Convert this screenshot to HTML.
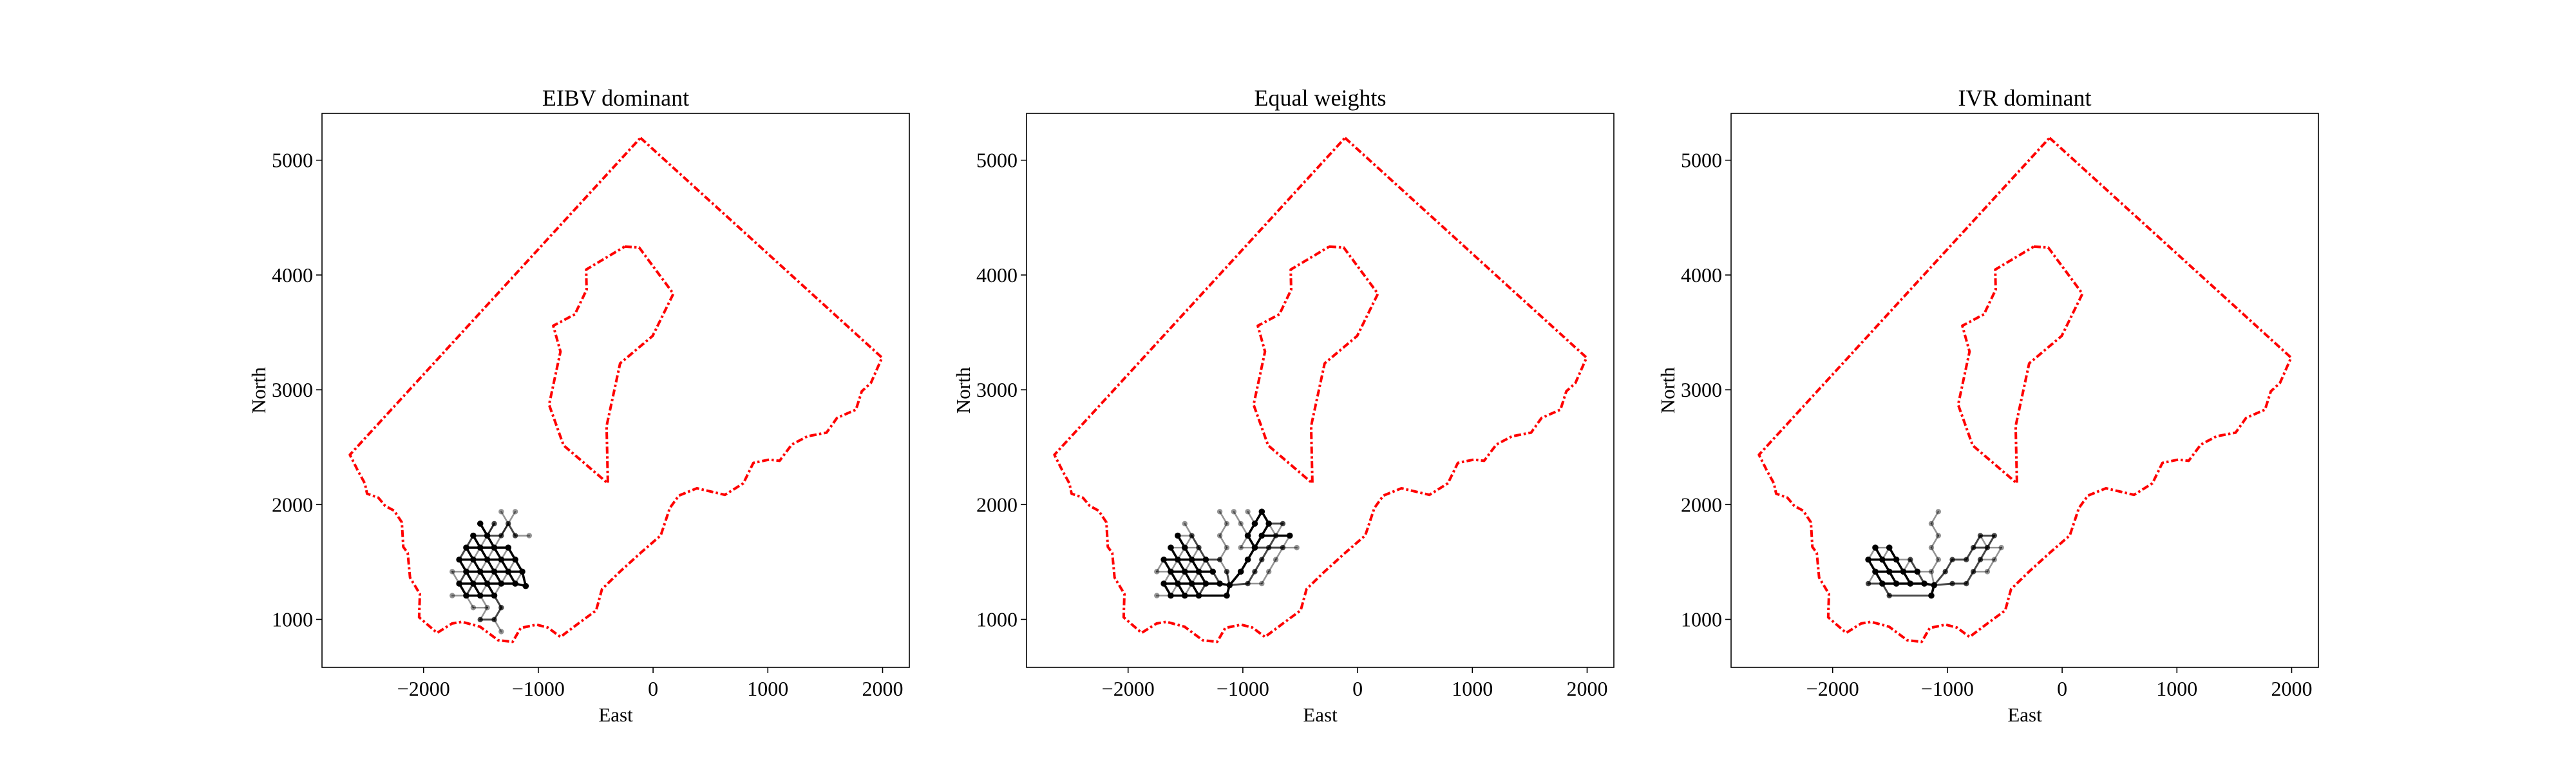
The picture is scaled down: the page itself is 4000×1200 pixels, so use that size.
<!DOCTYPE html>
<html><head><meta charset="utf-8"><style>
html,body{margin:0;padding:0;background:#fff;}
svg{display:block;font-family:"Liberation Serif",serif;}
</style></head><body>
<svg id="fig" width="4000" height="1200" viewBox="0 0 4000 1200" xmlns="http://www.w3.org/2000/svg">
<rect width="4000" height="1200" fill="#fff"/>
</svg>
<script>
const titles = ["EIBV dominant","Equal weights","IVR dominant"];
const xTicks = [-2000,-1000,0,1000,2000];
const yTicks = [1000,2000,3000,4000,5000];
const xLim = [-2885, 2233];
const yLim = [582, 5408];
const outerX = [-110,1995,1898,1819,1768,1603,1512,1346,1209,1102,1012,874,787,626,382,224,146,67,-110,-287,-445,-496,-642,-807,-917,-1016,-1154,-1224,-1350,-1508,-1665,-1752,-1882,-2039,-2032,-2118,-2138,-2177,-2189,-2256,-2334,-2394,-2492,-2512,-2571,-2642,-110];
const outerY = [5195,3280,3059,2987,2827,2755,2627,2595,2523,2381,2392,2363,2185,2085,2142,2078,1970,1731,1578,1417,1264,1078,971,847,929,954,925,804,818,936,979,964,882,1018,1221,1364,1578,1632,1845,1946,1988,2060,2095,2185,2292,2434,5195];
const innerX = [-248,-122,177,-4,-287,-405,-394,-780,-906,-807,-870,-681,-579,-583,-248];
const innerY = [4247,4240,3837,3469,3230,2684,2185,2516,2870,3333,3558,3658,3872,4047,4247];
// lattice: x = latX0 + latDX*h, y = latY0 + latDY*r
const latX0 = -1750, latDX = 61, latY0 = 1416, latDY = 104.5;
// edges "h1,r1,h2,r2,level" (level 1 = dark/heavy, 3 = light)
const edges1 = ["4,4,5,3,1","5,3,6,2,1","6,2,7,1,1","7,1,8,0,1","8,0,9,-1,1","3,3,4,2,1","4,2,5,1,1","5,1,6,0,1","6,0,7,-1,1","2,2,3,1,1","3,1,4,0,1","4,0,5,-1,1","5,-1,6,-2,1","1,1,2,0,1","2,0,3,-1,1","3,-1,4,-2,1","8,2,9,1,1","9,1,10,0,1","10,0,10.5,-1.2,1",
"2,2,8,2,1","1,1,9,1,1","2,0,10,0,1","1,-1,9,-1,1","9,-1,10.5,-1.2,1","2,-2,6,-2,1","3,3,7,3,2","0,0,2,0,3","0,-2,2,-2,3","9,3,11,3,3",
"1,-1,2,0,2","3,-1,4,0,3","5,-1,6,0,3","7,-1,8,0,3","9,-1,10,0,3","2,0,3,1,3","4,0,5,1,3","6,0,7,1,3","8,0,9,1,3","1,1,2,2,2","3,1,4,2,3","5,1,6,2,3","7,1,8,2,3","2,2,3,3,2","4,2,5,3,3","6,2,7,3,3","5,3,6,4,3","7,3,8,4,3","2,-2,3,-1,2","4,-2,5,-1,3","6,-2,7,-1,3","0,0,1,-1,3","1,-1,2,-2,1",
"7,5,8,4,3","9,5,8,4,3","8,4,7,3,2","8,4,9,3,2","6,4,5,3,2","2,-2,3,-3,3","3,-3,5,-3,3","4,-2,5,-3,3","5,-3,4,-4,3","4,-4,6,-4,2","6,-2,7,-3,2","7,-3,6,-4,2","6,-4,7,-5,3"];
const edges2 = ["1,1,2,0,1","2,0,3,-1,1","3,-1,4,-2,1","2,2,3,1,1","3,1,4,0,1","4,0,5,-1,1","5,-1,6,-2,1","3,3,4,2,1","4,2,5,1,1","5,1,6,0,1","6,0,7,-1,1","5,3,6,2,2","6,2,7,1,2","7,1,8,0,2","8,0,9,-1,2","4,4,5,3,3",
"1,1,7,1,1","7,1,9,1,2","0,0,2,0,3","2,0,8,0,1","1,-1,9,-1,1","9,-1,10.4,-1.13,1","0,-2,2,-2,3","2,-2,10,-2,1","2,2,6,2,3","3,3,5,3,3",
"0,0,1,1,3","1,-1,2,0,3","2,-2,3,-1,3","4,-2,5,-1,3","6,-2,7,-1,2","3,-1,4,0,3","5,-1,6,0,3","2,0,3,1,3","4,0,5,1,3","6,0,7,1,3","3,1,4,2,3","5,1,6,2,3","4,2,5,3,3","1,-1,2,-2,1",
"10,-2,10.4,-1.13,1","10,0,10.4,-1.13,2","9,1,10,0,3","9,5,10,4,3","10,4,9,3,3","9,3,10,2,3","10,2,9,1,3",
"10.4,-1.13,12,0,1","12,0,13,1,1","13,1,14,2,1","14,2,15,3,1","15,3,16,4,1","16,4,18,4,2","13,3,14,4,1","14,4,15,5,1","15,5,16,4,1","12,2,13,3,3","13,3,14,2,1","15,3,19,3,1","12,2,14,2,3","14,2,18,2,2","18,2,20,2,3","11,5,12,4,3","12,4,13,3,3","13,5,14,4,3","16,4,17,3,3","18,4,17,3,3",
"10.4,-1.13,13,-1,2","13,-1,15,-1,3","13,-1,14,0,2","14,0,15,1,2","15,1,16,2,2","16,2,17,3,2","15,-1,16,0,3","16,0,17,1,3","17,1,18,2,3","18,2,19,3,3"];
const edges3 = ["2,2,3,1,1","3,1,4,0,1","4,0,5,-1,1","1,1,5,1,1","5,1,7,1,3","2,0,8,0,1","8,0,10,0,3","1,1,2,0,1","2,0,3,-1,1","4,2,5,1,1","5,1,6,0,1","6,0,7,-1,1","7,1,8,0,2","8,0,9,-1,2","3,-1,9,-1,1","9,-1,10.4,-1.13,1","1,-1,3,-1,2","3,-1,4,-2,2","4,-2,10,-2,2","10,-2,10.4,-1.13,1","2,2,4,2,3","2,0,1,-1,3","6,0,7,1,3","1,1,2,2,3","3,1,4,2,3",
"11,5,10,4,3","10,4,11,3,3","11,3,10,2,3","10,2,11,1,3","11,1,10,0,3","10,0,10.4,-1.13,3",
"10.4,-1.13,13,-1,2","13,-1,15,-1,2","10.4,-1.13,12,0,2","12,0,13,1,2","13,1,15,1,2","15,1,16,2,2","16,2,17,3,2","15,-1,16,0,2","16,0,17,1,2","17,1,18,2,2","18,2,19,3,2","16,2,18,2,2","18,2,20,2,3","17,3,19,3,2","17,3,18,2,3","19,1,20,2,3","16,0,18,0,3","18,0,19,1,3","17,1,19,1,3"];
const allEdges = [edges1, edges2, edges3];

const NS = "http://www.w3.org/2000/svg";
const svg = document.getElementById("fig");
const AX_W = 912, AX_H = 860, AX_TOP = 176, AX_LEFT0 = 500, AX_STEP = 1094;
function mk(tag, attrs, parent){const e=document.createElementNS(NS,tag);for(const k in attrs)e.setAttribute(k,attrs[k]);parent.appendChild(e);return e;}
const levelStyle = {1:{c:"#000",o:1,w:3.6},2:{c:"#000",o:0.72,w:3},3:{c:"#000",o:0.42,w:2.6}};

for (let p=0;p<3;p++){
  const ox = AX_LEFT0 + AX_STEP*p;
  const sx = v => ox + (v - xLim[0])/(xLim[1]-xLim[0])*AX_W;
  const sy = v => AX_TOP + (yLim[1]-v)/(yLim[1]-yLim[0])*AX_H;
  const g = mk("g",{},svg);
  
  
  const poly = (xs,ys,name)=>{
    let d=""; xs.forEach((x,i)=>{d+=(i?"L":"M")+sx(x).toFixed(1)+","+sy(ys[i]).toFixed(1);});
    const pa = mk("path",{d:d,fill:"none",stroke:"#ff0000","stroke-width":4,"stroke-dasharray":"11 4 3.5 4","stroke-linejoin":"round"},g);
    
    
  };
  poly(outerX,outerY,"outer-boundary");
  poly(innerX,innerY,"inner-boundary");
  const nodeLevel = {};
  const eg = mk("g",{},g);
  
  
  allEdges[p].forEach(s=>{
    const [h1,r1,h2,r2,l] = s.split(",").map(Number);
    const st = levelStyle[l];
    const ln = mk("line",{x1:sx(latX0+latDX*h1),y1:sy(latY0+latDY*r1),x2:sx(latX0+latDX*h2),y2:sy(latY0+latDY*r2),stroke:st.c,"stroke-opacity":st.o,"stroke-width":st.w,"stroke-linecap":"round"},eg);
    
    
    [[h1,r1],[h2,r2]].forEach(([h,r])=>{const k=h+"_"+r;nodeLevel[k]=Math.min(nodeLevel[k]||9,l);});
  });
  for (const k in nodeLevel){
    const [h,r]=k.split("_").map(Number);
    const st = levelStyle[nodeLevel[k]];
    const c = mk("circle",{cx:sx(latX0+latDX*h),cy:sy(latY0+latDY*r),r:nodeLevel[k]===1?4.8:4.2,fill:"#000","fill-opacity":st.o},eg);
    
    
  }
  const fr = mk("rect",{x:ox,y:AX_TOP,width:AX_W,height:AX_H,fill:"none",stroke:"#000","stroke-width":1.6},g);
  
  
  xTicks.forEach(v=>{
    const x=sx(v);
    const t=mk("line",{x1:x,y1:AX_TOP+AX_H,x2:x,y2:AX_TOP+AX_H+9,stroke:"#000","stroke-width":1.6},g);
    
    
    const tx=mk("text",{x:x,y:AX_TOP+AX_H+44,"font-size":32,"text-anchor":"middle",fill:"#000"},g);
    tx.textContent = (v<0?"\u2212"+Math.abs(v):String(v));
    
    
  });
  yTicks.forEach(v=>{
    const y=sy(v);
    const t=mk("line",{x1:ox-9,y1:y,x2:ox,y2:y,stroke:"#000","stroke-width":1.6},g);
    
    
    const tx=mk("text",{x:ox-14,y:y+11,"font-size":32,"text-anchor":"end",fill:"#000"},g);
    tx.textContent = String(v);
    
    
  });
  const ti=mk("text",{x:ox+AX_W/2,y:AX_TOP-12,"font-size":36,"text-anchor":"middle",fill:"#000"},g);
  ti.textContent=titles[p];
  
  
  const xl=mk("text",{x:ox+AX_W/2,y:AX_TOP+AX_H+84,"font-size":31,"text-anchor":"middle",fill:"#000"},g);
  xl.textContent="East";
  
  
  const yx = ox-88, yy = AX_TOP+AX_H/2;
  const yl=mk("text",{x:yx,y:yy,"font-size":31,"text-anchor":"middle",fill:"#000",transform:"rotate(-90 "+yx+" "+yy+")"},g);
  yl.textContent="North";
  
  
}
</script>
</body></html>
